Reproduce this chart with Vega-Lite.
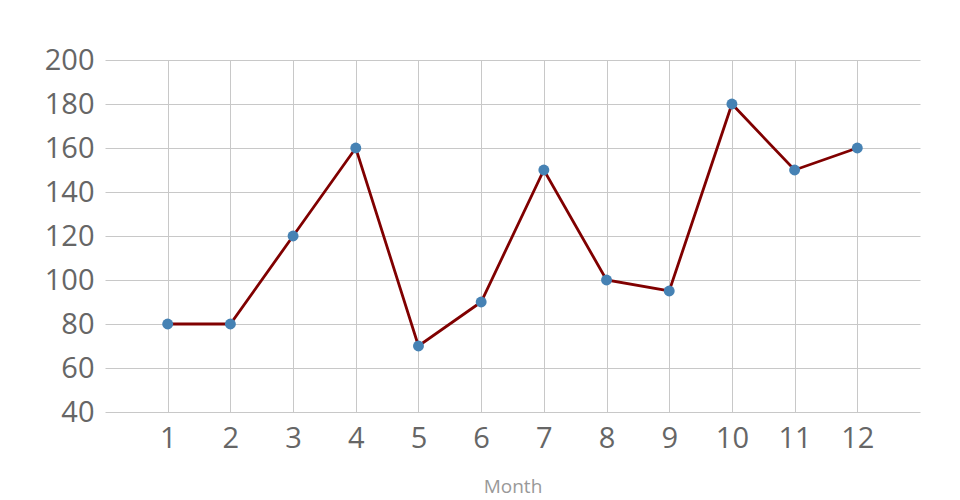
{
  "$schema": "https://vega.github.io/schema/vega-lite/v6.json",
  "autosize": "none",
  "padding": {"left": 105, "top": 60, "right": 40, "bottom": 88},
  "width": 815,
  "height": 352,
  "background": "white",
  "config": {
    "font": "Open Sans",
    "view": {"stroke": null},
    "axis": {"gridColor": "#c8c8c8", "gridWidth": 1, "domain": false, "ticks": false, "labelColor": "#666666", "labelFont": "Open Sans", "labelFontSize": 29}
  },
  "data": {"values": [
    {"month": 1, "value": 80},
    {"month": 2, "value": 80},
    {"month": 3, "value": 120},
    {"month": 4, "value": 160},
    {"month": 5, "value": 70},
    {"month": 6, "value": 90},
    {"month": 7, "value": 150},
    {"month": 8, "value": 100},
    {"month": 9, "value": 95},
    {"month": 10, "value": 180},
    {"month": 11, "value": 150},
    {"month": 12, "value": 160}
  ]},
  "encoding": {
    "x": {"field": "month", "type": "quantitative", "scale": {"domain": [0, 13], "nice": false, "zero": false},
      "axis": {"values": [1,2,3,4,5,6,7,8,9,10,11,12], "title": "Month", "titleColor": "#999999", "titleFontSize": 19, "titleFontWeight": "normal", "titlePadding": 24, "labelPadding": 12}},
    "y": {"field": "value", "type": "quantitative", "scale": {"domain": [40, 200], "nice": false, "zero": false},
      "axis": {"values": [40,60,80,100,120,140,160,180,200], "title": null, "labelPadding": 11}}
  },
  "layer": [
    {"mark": {"type": "line", "color": "#800000", "strokeWidth": 2.8}},
    {"mark": {"type": "point", "filled": true, "opacity": 1, "color": "#4682b4", "size": 120}}
  ]
}
